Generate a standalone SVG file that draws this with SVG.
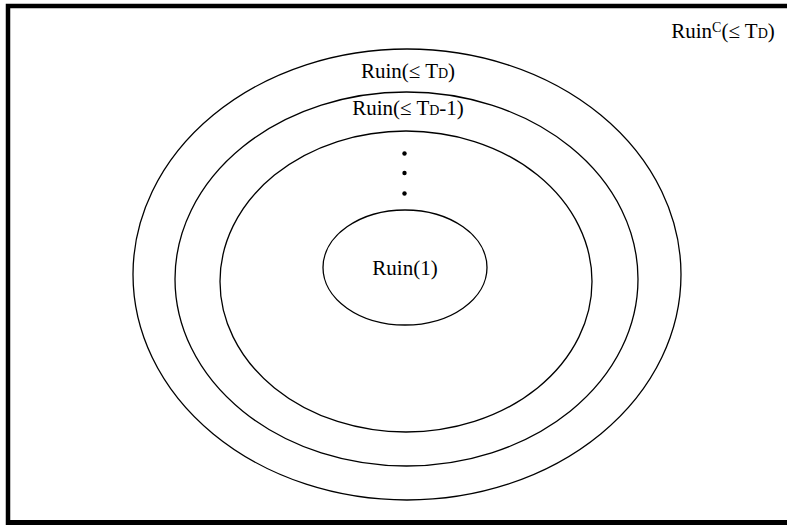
<svg xmlns="http://www.w3.org/2000/svg" width="787" height="525" viewBox="0 0 787 525">
<style>
.e{fill:none;stroke:#000;stroke-width:1.3}
.t{font-family:"Liberation Serif","Times New Roman",serif;font-size:21px;fill:#000}
.s{font-size:14px}
</style>
<rect width="787" height="525" fill="#fff"/>
<g id="frame">
<path d="M8,525 V6 H787" fill="none" stroke="#000" stroke-width="4.5"/>
<line x1="8" y1="522.5" x2="787" y2="522.5" stroke="#000" stroke-width="5"/>
</g>
<g id="outer">
<ellipse class="e" cx="407" cy="274.5" rx="274" ry="225.5"/>
<text class="t" x="408" y="78" text-anchor="middle">Ruin(≤ T<tspan class="s">D</tspan>)</text>
</g>
<g id="second">
<ellipse class="e" cx="406.5" cy="279" rx="231.5" ry="187"/>
<text class="t" x="408" y="115" text-anchor="middle">Ruin(≤ T<tspan class="s">D</tspan>-1)</text>
</g>
<g id="third">
<ellipse class="e" cx="406" cy="281.5" rx="186" ry="150.5"/>
<circle cx="404.5" cy="153.5" r="2.2"/>
<circle cx="404.5" cy="173" r="2.2"/>
<circle cx="404.5" cy="193.5" r="2.2"/>
</g>
<g id="inner">
<ellipse class="e" cx="405" cy="267.5" rx="82" ry="57.5"/>
<text class="t" x="405" y="275" text-anchor="middle">Ruin(1)</text>
</g>
<g id="complement">
<text class="t" x="723" y="38" text-anchor="middle">Ruin<tspan class="s" dy="-6">C</tspan><tspan dy="6">(≤ T</tspan><tspan class="s">D</tspan>)</text>
</g>
</svg>
